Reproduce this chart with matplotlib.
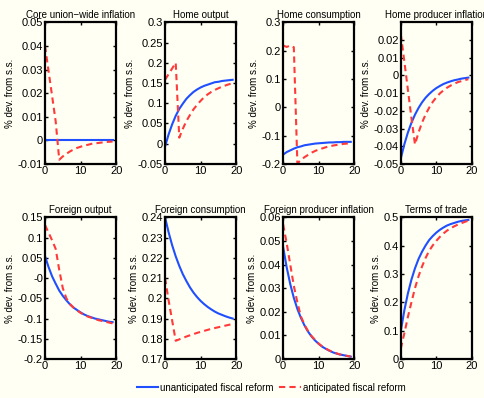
import numpy as np
import matplotlib
matplotlib.use('Agg')
import matplotlib.pyplot as plt
from matplotlib.ticker import FormatStrFormatter

t = np.arange(20)

titles = ['Core union\u2212wide inflation', 'Home output', 'Home consumption',
          'Home producer inflation', 'Foreign output', 'Foreign consumption',
          'Foreign producer inflation', 'Terms of trade']

# unanticipated (blue) / anticipated (red) responses, periods 0..19
core_infl_u = [0.0] * 20
core_infl_a = [0.040, 0.0293, 0.0187, 0.008, -0.0082, -0.0068, -0.0057, -0.0047, -0.0039, -0.0032,
               -0.0027, -0.0022, -0.0019, -0.0015, -0.0013, -0.0011, -0.0009, -0.0007, -0.0006, -0.0005]

home_out_u = [-0.007, 0.023, 0.048, 0.069, 0.086, 0.099, 0.111, 0.120, 0.128, 0.134,
              0.139, 0.143, 0.146, 0.149, 0.152, 0.153, 0.155, 0.156, 0.157, 0.158]
home_out_a = [0.158, 0.172, 0.186, 0.200, 0.015, 0.037, 0.056, 0.071, 0.085, 0.096,
              0.106, 0.115, 0.122, 0.128, 0.133, 0.137, 0.141, 0.144, 0.147, 0.149]

home_cons_u = [-0.167, -0.158, -0.152, -0.146, -0.141, -0.138, -0.134, -0.132, -0.130, -0.128,
               -0.127, -0.126, -0.125, -0.124, -0.124, -0.123, -0.123, -0.122, -0.122, -0.122]
home_cons_a = [0.218, 0.213, 0.218, 0.212, -0.198, -0.186, -0.176, -0.168, -0.160, -0.154,
               -0.149, -0.145, -0.141, -0.138, -0.135, -0.133, -0.131, -0.129, -0.128, -0.127]

home_pinf_u = [-0.047, -0.039, -0.0323, -0.0268, -0.0222, -0.0184, -0.0152, -0.0126, -0.0105, -0.0087,
               -0.0072, -0.006, -0.0049, -0.0041, -0.0034, -0.0028, -0.0024, -0.0019, -0.0016, -0.0013]
home_pinf_a = [0.0233, 0.008, -0.008, -0.024, -0.039, -0.0322, -0.0266, -0.022, -0.0182, -0.015,
               -0.0124, -0.0102, -0.0085, -0.007, -0.0058, -0.0048, -0.0039, -0.0033, -0.0027, -0.0022]

for_out_u = [0.054, 0.027, 0.004, -0.014, -0.031, -0.044, -0.055, -0.065, -0.073, -0.079,
             -0.085, -0.090, -0.094, -0.097, -0.100, -0.102, -0.104, -0.106, -0.108, -0.109]
for_out_a = [0.131, 0.112, 0.093, 0.072, 0.020, -0.025, -0.050, -0.064, -0.073, -0.080,
             -0.086, -0.091, -0.095, -0.098, -0.101, -0.104, -0.106, -0.108, -0.110, -0.112]

for_cons_u = [0.240, 0.2326, 0.2262, 0.2207, 0.2160, 0.2119, 0.2085, 0.2054, 0.2028, 0.2006,
              0.1987, 0.1971, 0.1957, 0.1945, 0.1934, 0.1925, 0.1918, 0.1911, 0.1905, 0.1900]
for_cons_a = [0.210, 0.199, 0.189, 0.179, 0.1797, 0.1804, 0.1811, 0.1817, 0.1823, 0.1829,
              0.1834, 0.1839, 0.1844, 0.1849, 0.1853, 0.1857, 0.1861, 0.1865, 0.1869, 0.1872]

for_pinf_u = [0.0474, 0.0388, 0.0317, 0.0259, 0.0212, 0.0174, 0.0142, 0.0116, 0.0095, 0.0078,
              0.0064, 0.0052, 0.0043, 0.0035, 0.0028, 0.0023, 0.0019, 0.0016, 0.0013, 0.001]
for_pinf_a = [0.057, 0.049, 0.040, 0.031, 0.024, 0.018, 0.0145, 0.0118, 0.0097, 0.0080,
              0.0065, 0.0053, 0.0044, 0.0036, 0.0029, 0.0024, 0.0019, 0.0016, 0.0013, 0.0010]

tot_u = [0.098, 0.171, 0.231, 0.280, 0.320, 0.353, 0.379, 0.401, 0.420, 0.434,
         0.446, 0.456, 0.464, 0.471, 0.476, 0.480, 0.484, 0.487, 0.489, 0.491]
tot_a = [0.036, 0.09, 0.148, 0.20, 0.25, 0.292, 0.327, 0.357, 0.382, 0.401,
         0.417, 0.431, 0.443, 0.453, 0.461, 0.468, 0.474, 0.479, 0.484, 0.488]

series = [(core_infl_u, core_infl_a), (home_out_u, home_out_a), (home_cons_u, home_cons_a),
          (home_pinf_u, home_pinf_a), (for_out_u, for_out_a), (for_cons_u, for_cons_a),
          (for_pinf_u, for_pinf_a), (tot_u, tot_a)]

# (ymin, ymax, tick step)
ylims = [(-0.01, 0.05, 0.01), (-0.05, 0.3, 0.05), (-0.2, 0.3, 0.1), (-0.05, 0.0299, 0.01),
         (-0.2, 0.15, 0.05), (0.17, 0.24, 0.01), (0.0, 0.06, 0.01), (0.0, 0.5, 0.1)]

bg = '#fffff4'
blue = '#1f4fff'
red = '#ff3a3a'

plt.rcParams['font.family'] = ['Liberation Sans', 'DejaVu Sans']
plt.rcParams['font.size'] = 7

fig = plt.figure(figsize=(4.84, 3.98), dpi=100, facecolor=bg)

lefts = [0.093, 0.341, 0.585, 0.828]
bottoms = [0.588, 0.098]
w, h = 0.147, 0.356

for k in range(8):
    ax = fig.add_axes([lefts[k % 4], bottoms[k // 4], w, h], facecolor=bg)
    u, a = series[k]
    l1, = ax.plot(t, u, color=blue, lw=1.5)
    l2, = ax.plot(t, a, color=red, lw=1.5, ls=(0, (3, 2)))
    lo, hi, st = ylims[k]
    ax.set_xlim(0, 20)
    ax.set_ylim(lo, hi)
    ax.set_xticks([0, 10, 20])
    ax.set_yticks(np.round(np.arange(lo, hi + 1e-9, st), 4))
    ax.yaxis.set_major_formatter(FormatStrFormatter('%g'))
    ax.tick_params(direction='in', length=2.5, width=1, top=True, right=True, pad=1.5,
                   labelsize=8)
    for s in ax.spines.values():
        s.set_linewidth(1.6)
    ax.set_title(titles[k], fontsize=7, pad=3)
    ax.set_ylabel('% dev. from s.s.', fontsize=7, labelpad=2)

fig.legend([l1, l2], ['unanticipated fiscal reform', 'anticipated fiscal reform'],
           loc='center', bbox_to_anchor=(0.56, 0.026), ncol=2, frameon=False,
           fontsize=7, handlelength=2.2, handletextpad=0.2, columnspacing=0.6)

fig.savefig('out.png', dpi=100, facecolor=bg)
